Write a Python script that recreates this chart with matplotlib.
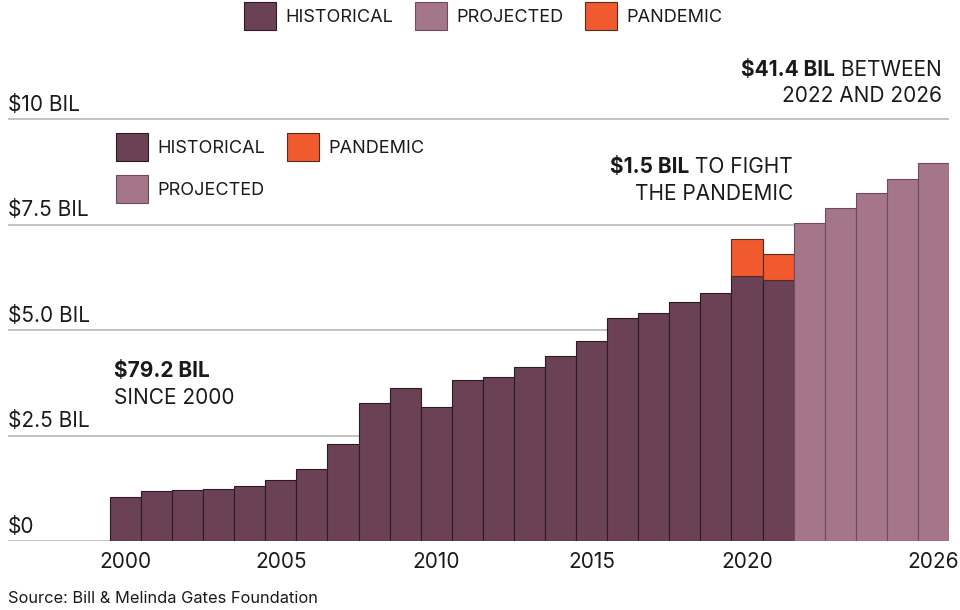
import matplotlib
matplotlib.use("Agg")
import matplotlib.pyplot as plt
from matplotlib.patches import Patch

plt.rcParams['font.family'] = ['Inter', 'DejaVu Sans']

# datos (bilhoes de dolares)
anos_hist = list(range(2000, 2022))
historico = [1.06, 1.20, 1.21, 1.24, 1.32, 1.45, 1.71, 2.31, 3.28, 3.64, 3.17,
             3.83, 3.89, 4.12, 4.39, 4.74, 5.29, 5.40, 5.66, 5.88, 6.28, 6.18]
anos_pand = [2020, 2021]
pandemia = [0.88, 0.62]
anos_proj = [2022, 2023, 2024, 2025, 2026]
projetado = [7.53, 7.89, 8.24, 8.59, 8.95]

ytick_vals = [0, 2.5, 5.0, 7.5, 10]
ytick_labels = [r"\$0", r"\$2.5 BIL", r"\$5.0 BIL", r"\$7.5 BIL", r"\$10 BIL"]
xtick_vals = [2000, 2005, 2010, 2015, 2020, 2026]

cor_hist = "#6b4155"
cor_proj = "#a57689"
cor_pand = "#f15a2f"
cor_texto = "#1a1a1a"

W, H = 960, 610


def px(x, y):
    # converte pixel (origem no topo) para fracao da figura
    return x / W, 1 - y / H


fig = plt.figure(figsize=(9.6, 6.1), dpi=100)
ax = fig.add_axes([8 / W, (H - 541.3) / H, 941 / W, 541.3 / H])
ax.set_xlim(1996.22, 2026.5)
ax.set_ylim(0, 12.82)

# linhas de grade
for v in ytick_vals:
    ax.axhline(v, color="#b8b8b8", lw=1.2, zorder=0)

# barras
ax.bar(anos_hist, historico, width=1, color=cor_hist, edgecolor="#2e1a24",
       linewidth=0.8, zorder=2)
base = [historico[anos_hist.index(a)] for a in anos_pand]
ax.bar(anos_pand, pandemia, width=1, bottom=base, color=cor_pand,
       edgecolor="#5a2a1e", linewidth=0.8, zorder=2)
ax.bar(anos_proj, projetado, width=1, color=cor_proj, edgecolor="#6e4a5c",
       linewidth=0.8, zorder=2)

# rotulos do eixo y acima das linhas
for v, lab in zip(ytick_vals, ytick_labels):
    ax.annotate(lab, xy=(0, v), xycoords=("axes fraction", "data"),
                xytext=(0, 6), textcoords="offset points", ha="left",
                va="baseline", fontsize=15, color=cor_texto)

ax.set_yticks([])
ax.set_xticks(xtick_vals)
ax.set_xticklabels([str(a) for a in xtick_vals], fontsize=15, color=cor_texto)
ax.tick_params(axis="x", length=0, pad=8)
for s in ax.spines.values():
    s.set_visible(False)

# legendas
h_hist = Patch(facecolor=cor_hist, edgecolor="#2e1a24", linewidth=0.8)
h_proj = Patch(facecolor=cor_proj, edgecolor="#6e4a5c", linewidth=0.8)
h_pand = Patch(facecolor=cor_pand, edgecolor="#5a2a1e", linewidth=0.8)

estilo_leg = dict(loc="upper left", frameon=False, fontsize=13, borderpad=0,
                  borderaxespad=0, handlelength=1.78, handleheight=2.02,
                  handletextpad=0.5, columnspacing=1.22, labelcolor=cor_texto)

fig.legend([h_hist, h_proj, h_pand], ["HISTORICAL", "PROJECTED", "PANDEMIC"],
           bbox_to_anchor=px(244, 2), ncol=3, **estilo_leg)

fig.legend([h_hist, h_proj, h_pand], ["HISTORICAL", "PROJECTED", "PANDEMIC"],
           bbox_to_anchor=px(116, 133), ncol=2, labelspacing=0.78,
           **estilo_leg)

# anotacoes
fs = 15
t1 = fig.text(*px(942, 76), " BETWEEN", ha="right", va="baseline", fontsize=fs,
              color=cor_texto)
fig.text(*px(942, 102), "2022 AND 2026", ha="right", va="baseline",
         fontsize=fs, color=cor_texto)
t2 = fig.text(*px(793, 173), " TO FIGHT", ha="right", va="baseline",
              fontsize=fs, color=cor_texto)
fig.text(*px(793, 200), "THE PANDEMIC", ha="right", va="baseline",
         fontsize=fs, color=cor_texto)

fig.canvas.draw()
r = fig.canvas.get_renderer()
for t, bold in [(t1, r"\$41.4 BIL"), (t2, r"\$1.5 BIL")]:
    bb = t.get_window_extent(renderer=r)
    x0 = bb.x0 / fig.bbox.width
    fig.text(x0, t.get_position()[1], bold, ha="right", va="baseline",
             fontsize=fs, fontweight="bold", color=cor_texto)

fig.text(*px(114, 377), r"\$79.2 BIL", ha="left", va="baseline", fontsize=fs,
         fontweight="bold", color=cor_texto)
fig.text(*px(114, 404), "SINCE 2000", ha="left", va="baseline", fontsize=fs,
         color=cor_texto)

fig.text(*px(8, 603), "Source: Bill & Melinda Gates Foundation", ha="left",
         va="baseline", fontsize=11.8, color=cor_texto)

fig.savefig("out.png", dpi=100)
